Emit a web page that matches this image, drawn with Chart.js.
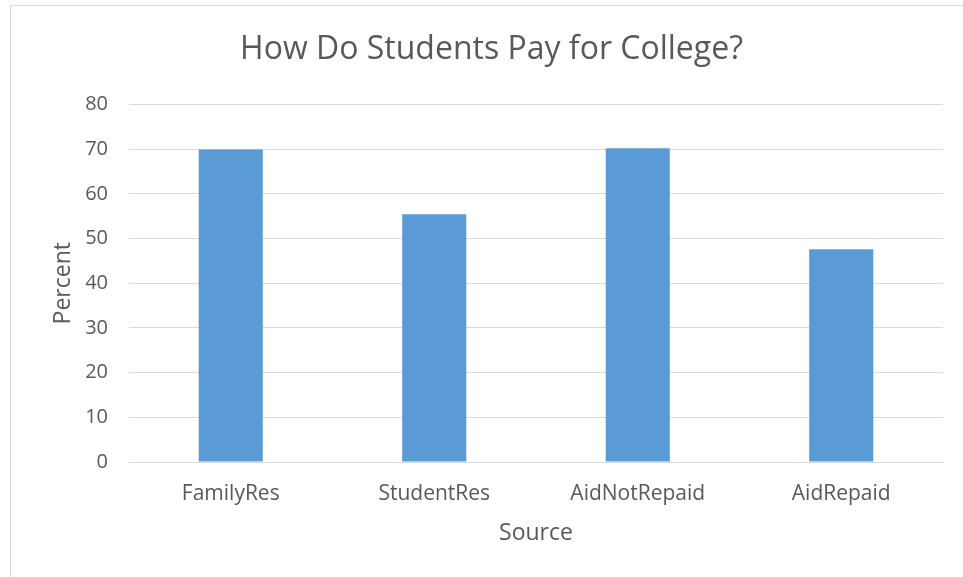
<!DOCTYPE html>
<html>
<head>
<meta charset="utf-8">
<script src="https://cdn.jsdelivr.net/npm/chart.js@4"></script>
<style>
    html, body { margin: 0; padding: 0; background: #fff; }
    .frame {
        position: absolute; left: 10px; top: 5px; width: 960px; height: 580px;
        border-left: 1px solid #d9d9d9; border-top: 1px solid #d9d9d9;
    }
    .wrap { position: absolute; left: 0; top: 0; width: 963px; height: 577px; }
</style>
</head>
<body>
<div class="frame"></div>
<div class="wrap"><canvas id="myChart" width="963" height="577"></canvas></div>
<script>
const categories = ['FamilyRes', 'StudentRes', 'AidNotRepaid', 'AidRepaid'];
const percentValues = [69.9, 55.4, 70.2, 47.6];
const yTicks = [0, 10, 20, 30, 40, 50, 60, 70, 80];

document.addEventListener('DOMContentLoaded', () => {
    const ctx = document.getElementById('myChart').getContext('2d');
    const grey = '#595959';
    const fontFamily = "'Open Sans', 'Liberation Sans', sans-serif";

    new Chart(ctx, {
        type: 'bar',
        data: {
            labels: categories,
            datasets: [{
                label: 'Percent',
                data: percentValues,
                backgroundColor: '#5b9bd5',
                categoryPercentage: 1.0,
                barPercentage: 0.315
            }]
        },
        options: {
            responsive: false,
            animation: false,
            layout: { padding: { left: 40, right: 20, top: 12, bottom: 26 } },
            plugins: {
                legend: { display: false },
                tooltip: { enabled: false },
                title: {
                    display: true,
                    text: 'How Do Students Pay for College?',
                    color: grey,
                    font: { family: fontFamily, size: 32, weight: 'normal', lineHeight: 1.2 },
                    padding: { top: 19, bottom: 35 }
                }
            },
            scales: {
                x: {
                    grid: { display: false, drawTicks: false },
                    border: { color: '#d9d9d9', width: 1 },
                    ticks: { color: grey, font: { family: fontFamily, size: 21 }, padding: 19 },
                    title: {
                        display: true, text: 'Source', color: grey,
                        font: { family: fontFamily, size: 23 }, padding: { top: 0, bottom: 4 }
                    },
                    // fixed height so the plot area ends where the original does
                    afterFit: axis => { axis.height = 89; }
                },
                y: {
                    min: 0, max: 80,
                    afterBuildTicks: axis => { axis.ticks = yTicks.map(v => ({ value: v })); },
                    grid: { color: '#d9d9d9', drawTicks: false },
                    border: { display: false },
                    ticks: { color: grey, font: { family: fontFamily, size: 20 }, padding: 21 },
                    title: {
                        display: true, text: 'Percent', color: grey,
                        font: { family: fontFamily, size: 23 }, padding: { top: 10, bottom: 0 }
                    },
                    afterFit: axis => { axis.width = 89; }
                }
            }
        }
    });
});
</script>
</body>
</html>
